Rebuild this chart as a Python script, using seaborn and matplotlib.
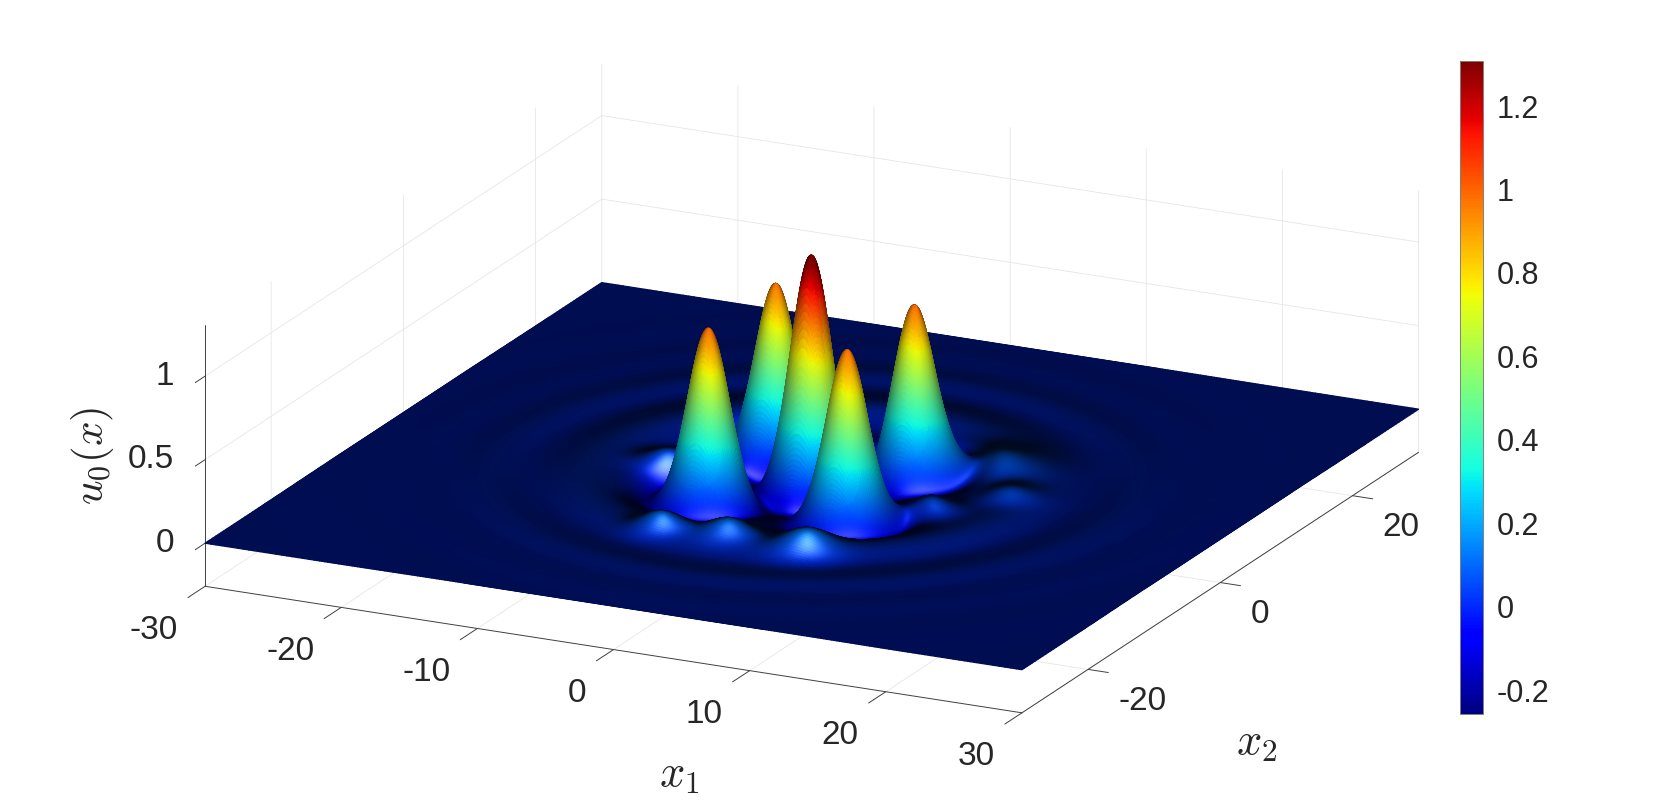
import numpy as np
import matplotlib
matplotlib.use('Agg')
import matplotlib.pyplot as plt
import seaborn as sns
from matplotlib.colors import Normalize
from matplotlib.cm import ScalarMappable
from mpl_toolkits.mplot3d import proj3d

# Peaks
peak_x1 = [-4.6, -4.8, 0.2, 5.45, 5.5]
peak_x2 = [-6.2, 4.4, -0.5, -5.9, 4.1]
peak_h = [0.99, 0.98, 1.34, 0.98, 0.965]
peak_sigma = [1.3, 1.3, 1.3, 1.3, 1.3]

# Dip around each peak
dip_radius = 4.0
dip_depth = -0.06
dip_width = 1.0

# Rings around the cluster
ring_radius = [10.5, 15.0, 18.5, 21.5, 26.5, 32.0]
ring_amp = [-0.012, 0.026, -0.002, 0.012, 0.005, 0.002]
ring_width = [1.5, 1.9, 1.2, 1.6, 1.7, 1.8]

# Small lumps on the inner ring
lump_x1 = [-4.0, 0.6, 6.5, 9.7, 9.4, 13.7, -9.8]
lump_x2 = [-14.5, -13.8, -14.2, -3.0, 6.0, 1.2, -1.6]
lump_h = [0.09, 0.10, 0.11, 0.10, 0.12, 0.05, 0.09]
lump_w = [1.3, 1.4, 1.6, 1.5, 2.4, 1.4, 1.4]

x1_ticks = [-30, -20, -10, 0, 10, 20, 30]
x2_ticks = [-20, 0, 20]
z_ticks = [0, 0.5, 1]
z_labels = ['0', '0.5', '1']
cbar_ticks = [-0.2, 0, 0.2, 0.4, 0.6, 0.8, 1, 1.2]
cbar_labels = ['-0.2', '0', '0.2', '0.4', '0.6', '0.8', '1', '1.2']
z_min, z_max = -0.258, 1.308

sns.set_theme(style='white')
plt.rcParams['font.family'] = ['Liberation Sans', 'DejaVu Sans']
plt.rcParams['mathtext.fontset'] = 'cm'
text_color = '#262626'

elev, azim = 18.6, -64.1

# Build the surface, fine mesh only where the peaks are
grid = np.concatenate([np.linspace(-30, -22, 20, endpoint=False),
                       np.linspace(-22, -11, 55, endpoint=False),
                       np.linspace(-11, 11, 260, endpoint=False),
                       np.linspace(11, 22, 55, endpoint=False),
                       np.linspace(22, 30, 20)])
X1, X2 = np.meshgrid(grid, grid)
Z_peaks = np.zeros_like(X1)
Z = np.zeros_like(X1)
for px, py, h, s in zip(peak_x1, peak_x2, peak_h, peak_sigma):
    r = np.hypot(X1 - px, X2 - py)
    Z_peaks += h * np.exp(-r**2 / (2 * s**2))
    Z += dip_depth * np.exp(-(r - dip_radius)**2 / (2 * dip_width**2))
Z += Z_peaks
r0 = np.hypot(X1 - peak_x1[2], X2 - peak_x2[2])
for R, a, w in zip(ring_radius, ring_amp, ring_width):
    Z += a * np.exp(-(r0 - R)**2 / (2 * w**2))
for px, py, h, w in zip(lump_x1, lump_x2, lump_h, lump_w):
    Z += h * np.exp(-((X1 - px)**2 + (X2 - py)**2) / (2 * w**2))

# Headlight shading, the picture has a camlight on it
k = 25
dz_dx2, dz_dx1 = np.gradient(Z, grid, grid)
nx, ny, nz = -k * dz_dx1, -k * dz_dx2, np.ones_like(Z)
nn = np.sqrt(nx**2 + ny**2 + nz**2)
e, a = np.radians(elev), np.radians(azim)
view = np.array([np.cos(e) * np.cos(a), np.cos(e) * np.sin(a), np.sin(e)])
ndotv = np.clip((nx * view[0] + ny * view[1] + nz * view[2]) / nn, 0, 1)

jet = plt.get_cmap('jet')
norm = Normalize(z_min, z_max)
rgb = jet(norm(Z))[..., :3]
on_peak = 1 - np.exp(-Z_peaks / 0.02)
# softer edges on the tall peaks, highlights only on the low lumps
light = 0.12 + 0.88 * ndotv**1.3 + 0.35 * on_peak * (1 - ndotv)
spec = 1.0 * ndotv**14 * (1 - on_peak)
shaded = np.clip(rgb * np.clip(light, 0, 1)[..., None] + spec[..., None], 0, 1)

fig = plt.figure(figsize=(16.61, 8.02), dpi=100, facecolor='white')
ax = fig.add_axes([400 / 1661, 1.7 / 802, 802 / 1661, 1], projection='3d', proj_type='ortho')
ax.set_facecolor('none')
ax.set_box_aspect((1, 1, 0.304), zoom=1.59)
ax.view_init(elev=elev, azim=azim)
ax.set_xlim(-30, 30)
ax.set_ylim(-30, 30)
ax.set_zlim(z_min, z_max)

# wide edges so the white panes do not show through the cell seams
surf = ax.plot_surface(X1, X2, Z, facecolors=shaded, rstride=1, cstride=1,
                       shade=False, antialiased=True, linewidth=0.9)
surf.set_clip_on(False)

ax.set_xticks(x1_ticks)
ax.set_yticks(x2_ticks)
ax.set_zticks(z_ticks)
ax.set_xticklabels([])
ax.set_yticklabels([])
ax.set_zticklabels([])
for axis, tick_len in zip((ax.xaxis, ax.yaxis, ax.zaxis), (0.54, 0.31, 0.31)):
    axis.set_pane_color((1, 1, 1, 1))
    axis.pane.set_edgecolor('none')
    axis.line.set_color('#404040')
    axis.line.set_linewidth(0.7)
    axis._axinfo['grid'].update(color='#e6e6e6', linewidth=0.6)
    axis._axinfo['tick'].update(inward_factor=tick_len, outward_factor=0, linewidth={True: 0.7, False: 0.7})
    axis._axinfo['tick']['color'] = '#404040'
ax.zaxis.set_ticks_position('lower')
ax.tick_params(colors='#404040')

ax.apply_aspect()
M = ax.get_proj()


def label_at(x, y, z, text, dx, dy, ha):
    xp, yp, _ = proj3d.proj_transform(x, y, z, M)
    ax.annotate(text, xy=(xp, yp), xycoords='data', xytext=(dx, dy),
                textcoords='offset pixels', ha=ha, va='center',
                fontsize=24, color=text_color, annotation_clip=False)


for t in x1_ticks:
    label_at(t, -30, z_min, str(t), -27, -44, 'right')
for t in x2_ticks:
    label_at(30, t, z_min, str(t), 30, -32, 'left')
for t, s in zip(z_ticks, z_labels):
    label_at(-30, -30, t, s, -31, 0, 'right')

fig.text(679 / 1661, 1 - 775 / 802, r'$x_1$', fontsize=32, color=text_color, ha='center', va='center')
fig.text(1257 / 1661, 1 - 744 / 802, r'$x_2$', fontsize=32, color=text_color, ha='center', va='center')
fig.text(92 / 1661, 1 - 456 / 802, r'$u_0(x)$', fontsize=31, color=text_color, rotation=90, ha='center', va='center')

# Colorbar
cax = fig.add_axes([1460 / 1661, 1 - 714.3 / 802, 22.7 / 1661, 653.2 / 802])
cb = fig.colorbar(ScalarMappable(norm=norm, cmap=jet), cax=cax)
cb.set_ticks(cbar_ticks)
cb.set_ticklabels(cbar_labels)
cb.ax.tick_params(direction='in', length=6, width=0.7, color='#404040', labelsize=22, labelcolor=text_color, pad=10)
cb.outline.set_edgecolor('#808080')
cb.outline.set_linewidth(0.7)

fig.savefig('out.png', dpi=100)
